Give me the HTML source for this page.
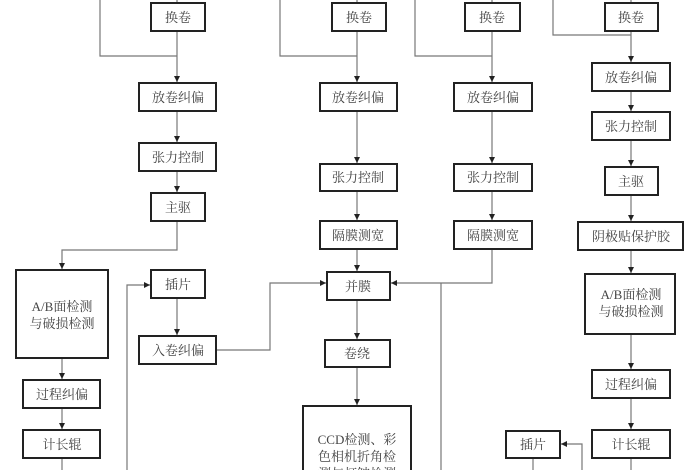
<!DOCTYPE html>
<html><head><meta charset="utf-8"><style>
html,body{margin:0;padding:0;background:#fff;}
svg{display:block;}
text{font-family:"Liberation Serif","Noto Serif CJK SC","Noto Sans CJK SC",serif;font-size:13px;fill:#444;text-anchor:middle;}
.b{fill:#fff;stroke:#222;stroke-width:2;}
.l{fill:none;stroke:#777;stroke-width:1.2;}
</style></head><body>
<svg width="700" height="470" viewBox="0 0 700 470">
<defs><marker id="a" markerWidth="8" markerHeight="8" refX="6" refY="3" orient="auto" markerUnits="userSpaceOnUse"><path d="M0,0 L6,3 L0,6z" fill="#222"/></marker></defs>
<!-- connectors -->
<g class="l">
<path d="M100,0 V56 H177"/>
<path d="M177,0 V3"/>
<path d="M177,31 V82" marker-end="url(#a)"/>
<path d="M177,111 V142" marker-end="url(#a)"/>
<path d="M177,171 V192" marker-end="url(#a)"/>
<path d="M177,221 V250 H62 V269" marker-end="url(#a)"/>
<path d="M62,358 V379" marker-end="url(#a)"/>
<path d="M62,408 V429" marker-end="url(#a)"/>
<path d="M62,458 V470"/>
<path d="M127,470 V285 H150" marker-end="url(#a)"/>
<path d="M177,298 V335" marker-end="url(#a)"/>
<path d="M216,350 H270 V283 H326" marker-end="url(#a)"/>
<path d="M280,0 V56 H357"/>
<path d="M357,0 V3"/>
<path d="M357,31 V82" marker-end="url(#a)"/>
<path d="M357,111 V163" marker-end="url(#a)"/>
<path d="M357,191 V220" marker-end="url(#a)"/>
<path d="M357,249 V271" marker-end="url(#a)"/>
<path d="M357,300 V339" marker-end="url(#a)"/>
<path d="M357,367 V405" marker-end="url(#a)"/>
<path d="M415,0 V56 H492"/>
<path d="M492,0 V3"/>
<path d="M492,31 V82" marker-end="url(#a)"/>
<path d="M492,111 V163" marker-end="url(#a)"/>
<path d="M492,191 V220" marker-end="url(#a)"/>
<path d="M492,249 V283 H391" marker-end="url(#a)"/>
<path d="M441,283 V470"/>
<path d="M553,0 V35 H631"/>
<path d="M631,0 V3"/>
<path d="M631,31 V62" marker-end="url(#a)"/>
<path d="M631,91 V111" marker-end="url(#a)"/>
<path d="M631,140 V166" marker-end="url(#a)"/>
<path d="M631,195 V221" marker-end="url(#a)"/>
<path d="M631,250 V273" marker-end="url(#a)"/>
<path d="M631,334 V369" marker-end="url(#a)"/>
<path d="M631,398 V429" marker-end="url(#a)"/>
<path d="M631,458 V470"/>
<path d="M582,470 V444 H561" marker-end="url(#a)"/>
<path d="M533,458 V470"/>
</g>
<!-- boxes -->
<g>
<rect class="b" x="151" y="3" width="54" height="28"/><text x="178" y="22">换卷</text>
<rect class="b" x="139" y="83" width="77" height="28"/><text x="178" y="102">放卷纠偏</text>
<rect class="b" x="139" y="143" width="77" height="28"/><text x="178" y="162">张力控制</text>
<rect class="b" x="151" y="193" width="54" height="28"/><text x="178" y="212">主驱</text>
<rect class="b" x="16" y="270" width="92" height="88"/><text x="62" y="311">A/B面检测</text><text x="62" y="328">与破损检测</text>
<rect class="b" x="23" y="380" width="77" height="28"/><text x="62" y="399">过程纠偏</text>
<rect class="b" x="23" y="430" width="77" height="28"/><text x="62" y="449">计长辊</text>
<rect class="b" x="151" y="270" width="54" height="28"/><text x="178" y="289">插片</text>
<rect class="b" x="139" y="336" width="77" height="28"/><text x="178" y="355">入卷纠偏</text>

<rect class="b" x="332" y="3" width="54" height="28"/><text x="359" y="22">换卷</text>
<rect class="b" x="320" y="83" width="77" height="28"/><text x="358" y="102">放卷纠偏</text>
<rect class="b" x="320" y="164" width="77" height="27"/><text x="358" y="182">张力控制</text>
<rect class="b" x="320" y="221" width="77" height="28"/><text x="358" y="240">隔膜测宽</text>
<rect class="b" x="327" y="272" width="63" height="28"/><text x="358" y="291">并膜</text>
<rect class="b" x="325" y="340" width="65" height="27"/><text x="357" y="358">卷绕</text>
<rect class="b" x="303" y="406" width="108" height="70"/><text x="357" y="444">CCD检测、彩</text><text x="357" y="461">色相机折角检</text><text x="357" y="478">测与打皱检测</text>

<rect class="b" x="465" y="3" width="55" height="28"/><text x="492" y="22">换卷</text>
<rect class="b" x="454" y="83" width="78" height="28"/><text x="493" y="102">放卷纠偏</text>
<rect class="b" x="454" y="164" width="78" height="27"/><text x="493" y="182">张力控制</text>
<rect class="b" x="454" y="221" width="78" height="28"/><text x="493" y="240">隔膜测宽</text>

<rect class="b" x="605" y="3" width="53" height="28"/><text x="631" y="22">换卷</text>
<rect class="b" x="592" y="63" width="78" height="28"/><text x="631" y="82">放卷纠偏</text>
<rect class="b" x="592" y="112" width="78" height="28"/><text x="631" y="131">张力控制</text>
<rect class="b" x="605" y="167" width="53" height="28"/><text x="631" y="186">主驱</text>
<rect class="b" x="578" y="222" width="105" height="28"/><text x="631" y="241">阴极贴保护胶</text>
<rect class="b" x="585" y="274" width="90" height="60"/><text x="631" y="299">A/B面检测</text><text x="631" y="316">与破损检测</text>
<rect class="b" x="592" y="370" width="78" height="28"/><text x="631" y="389">过程纠偏</text>
<rect class="b" x="592" y="430" width="78" height="28"/><text x="631" y="449">计长辊</text>
<rect class="b" x="506" y="431" width="54" height="27"/><text x="533" y="449">插片</text>
</g>
</svg>
</body></html>
